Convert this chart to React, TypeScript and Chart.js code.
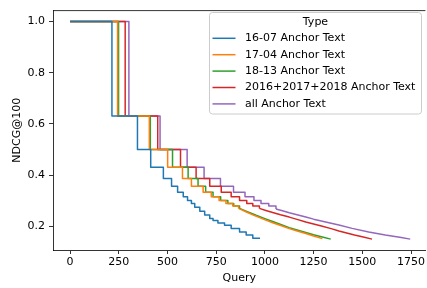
import { useEffect, useRef } from 'react';
import { Chart, registerables } from 'chart.js';

Chart.register(...registerables);

const seriesLabels = [
  '16-07 Anchor Text',
  '17-04 Anchor Text',
  '18-13 Anchor Text',
  '2016+2017+2018 Anchor Text',
  'all Anchor Text',
];
const seriesColors = ['#1f77b4', '#ff7f0e', '#2ca02c', '#d62728', '#9467bd'];

// Stepped head of each curve: query index where a step starts, NDCG@100 from there on
const query1607 = [0, 215, 346, 414, 479, 521, 552, 581, 603, 623, 640, 666, 691, 717, 734, 759, 793, 827, 870, 904, 938, 975];
const ndcg1607 = [1.0, 0.631, 0.5, 0.431, 0.387, 0.356, 0.333, 0.315, 0.301, 0.289, 0.274, 0.259, 0.244, 0.231, 0.223, 0.213, 0.204, 0.191, 0.178, 0.166, 0.153, 0.153];

const query1704 = [0, 244, 407, 501, 577, 623, 683, 725, 765, 800, 835, 865];
const ndcg1704 = [1.0, 0.631, 0.5, 0.431, 0.387, 0.356, 0.333, 0.315, 0.301, 0.289, 0.279, 0.270];

const query1813 = [0, 249, 412, 526, 606, 657, 696, 734, 773, 810, 840, 870];
const ndcg1813 = [1.0, 0.631, 0.5, 0.431, 0.387, 0.356, 0.333, 0.315, 0.301, 0.289, 0.279, 0.270];

const queryCombined = [0, 283, 450, 567, 647, 717, 776, 827, 870, 907, 938, 972];
const ndcgCombined = [1.0, 0.631, 0.5, 0.431, 0.387, 0.356, 0.333, 0.315, 0.301, 0.289, 0.279, 0.270];

const queryAll = [0, 302, 462, 601, 688, 772, 839, 898, 944, 980, 1020, 1057];
const ndcgAll = [1.0, 0.631, 0.5, 0.431, 0.387, 0.356, 0.333, 0.315, 0.301, 0.289, 0.279, 0.268];

// Fine-grained tails (steps too small to see), drawn as a continuous line
const tailQuery1607: number[] = [];
const tailNdcg1607: number[] = [];

const tailQuery1704 = [865, 905, 950, 995, 1040, 1085, 1125, 1170, 1210, 1250, 1295];
const tailNdcg1704 = [0.270, 0.256, 0.241, 0.227, 0.214, 0.202, 0.191, 0.181, 0.172, 0.162, 0.152];

const tailQuery1813 = [870, 910, 955, 1000, 1040, 1085, 1125, 1170, 1210, 1250, 1295, 1338];
const tailNdcg1813 = [0.270, 0.257, 0.243, 0.230, 0.219, 0.206, 0.195, 0.185, 0.176, 0.167, 0.158, 0.150];

const tailQueryCombined = [972, 1005, 1040, 1080, 1125, 1165, 1210, 1250, 1295, 1340, 1380, 1420, 1460, 1505, 1550];
const tailNdcgCombined = [0.270, 0.262, 0.254, 0.245, 0.236, 0.227, 0.217, 0.209, 0.200, 0.191, 0.182, 0.174, 0.166, 0.158, 0.150];

const tailQueryAll = [1057, 1090, 1125, 1165, 1210, 1250, 1295, 1340, 1380, 1448, 1533, 1618, 1700, 1746];
const tailNdcgAll = [0.268, 0.261, 0.253, 0.245, 0.236, 0.228, 0.220, 0.212, 0.205, 0.192, 0.178, 0.166, 0.156, 0.150];

const seriesQueries = [query1607, query1704, query1813, queryCombined, queryAll];
const seriesValues = [ndcg1607, ndcg1704, ndcg1813, ndcgCombined, ndcgAll];
const tailQueries = [tailQuery1607, tailQuery1704, tailQuery1813, tailQueryCombined, tailQueryAll];
const tailValues = [tailNdcg1607, tailNdcg1704, tailNdcg1813, tailNdcgCombined, tailNdcgAll];

const xTicks = [0, 250, 500, 750, 1000, 1250, 1500, 1750];
const yTicks = [0.2, 0.4, 0.6, 0.8, 1.0];
const legendTitle = 'Type';
const xTitle = 'Query';
const yTitle = 'NDCG@100';

const FONT = 'DejaVu Sans';

const overlayPlugin = {
  id: 'overlay',
  afterDraw(chart: any) {
    const { ctx, chartArea } = chart;
    ctx.save();
    // top spine
    ctx.strokeStyle = '#000';
    ctx.lineWidth = 0.8;
    ctx.beginPath();
    ctx.moveTo(chartArea.left, chartArea.top);
    ctx.lineTo(chartArea.right, chartArea.top);
    ctx.stroke();

    // legend box
    const bx = 209.5, by = 12.5, bw = 212, bh = 101.5, r = 3;
    ctx.beginPath();
    ctx.moveTo(bx + r, by);
    ctx.lineTo(bx + bw - r, by);
    ctx.quadraticCurveTo(bx + bw, by, bx + bw, by + r);
    ctx.lineTo(bx + bw, by + bh - r);
    ctx.quadraticCurveTo(bx + bw, by + bh, bx + bw - r, by + bh);
    ctx.lineTo(bx + r, by + bh);
    ctx.quadraticCurveTo(bx, by + bh, bx, by + bh - r);
    ctx.lineTo(bx, by + r);
    ctx.quadraticCurveTo(bx, by, bx + r, by);
    ctx.closePath();
    ctx.fillStyle = 'rgba(255,255,255,0.8)';
    ctx.fill();
    ctx.strokeStyle = '#cccccc';
    ctx.lineWidth = 1;
    ctx.stroke();

    ctx.font = `11px "${FONT}"`;
    ctx.fillStyle = '#000';
    ctx.textBaseline = 'middle';
    ctx.textAlign = 'center';
    ctx.fillText(legendTitle, bx + bw / 2, 22);
    ctx.textAlign = 'left';
    seriesLabels.forEach((label, i) => {
      const y = 38.3 + i * 16.4;
      ctx.strokeStyle = seriesColors[i];
      ctx.lineWidth = 1.5;
      ctx.beginPath();
      ctx.moveTo(212.5, y);
      ctx.lineTo(235.5, y);
      ctx.stroke();
      ctx.fillStyle = '#000';
      ctx.fillText(label, 245, y);
    });
    ctx.restore();
  },
};

export default function App() {
  const ref = useRef<HTMLCanvasElement>(null);
  useEffect(() => {
    document.body.style.margin = '0';
    const common = {
      borderWidth: 1.5,
      pointRadius: 0,
      fill: false,
      borderJoinStyle: 'round' as const,
      borderCapStyle: 'butt' as const,
    };
    const heads = seriesLabels.map((label, i) => ({
      ...common,
      label,
      data: seriesQueries[i].map((q, j) => ({ x: q, y: seriesValues[i][j] })),
      borderColor: seriesColors[i],
      backgroundColor: seriesColors[i],
      stepped: 'before' as const,
    }));
    const tails = seriesLabels.map((label, i) => ({
      ...common,
      label: label + ' (tail)',
      data: tailQueries[i].map((q, j) => ({ x: q, y: tailValues[i][j] })),
      borderColor: seriesColors[i],
      backgroundColor: seriesColors[i],
      tension: 0,
    }));
    const tickFont = { family: FONT, size: 11 };
    const chart = new Chart(ref.current!, {
      type: 'line',
      data: { datasets: [...heads, ...tails] },
      options: {
        responsive: false,
        animation: false,
        layout: { padding: { top: 6, right: 0, left: 0, bottom: 0 } },
        plugins: { legend: { display: false }, tooltip: { enabled: false } },
        scales: {
          x: {
            type: 'linear',
            min: -87.5,
            max: 1824,
            afterBuildTicks: (s: any) => {
              s.ticks = xTicks.map((v) => ({ value: v }));
            },
            afterFit: (s: any) => {
              s.height = 38;
            },
            grid: { display: true, drawOnChartArea: false, drawTicks: true, tickLength: 4, tickColor: '#000', tickWidth: 0.8 },
            border: { display: true, color: '#000', width: 0.8 },
            ticks: { color: '#000', font: tickFont, padding: 2, maxRotation: 0, autoSkip: false, callback: (v: any) => String(v) },
            title: { display: true, text: xTitle, color: '#000', font: tickFont, padding: { top: 0, bottom: 3 } },
          },
          y: {
            type: 'linear',
            min: 0.1075,
            max: 1.0425,
            afterBuildTicks: (s: any) => {
              s.ticks = yTicks.map((v) => ({ value: v }));
            },
            afterFit: (s: any) => {
              s.width = 53;
            },
            grid: { display: true, drawOnChartArea: false, drawTicks: true, tickLength: 4, tickColor: '#000', tickWidth: 0.8 },
            border: { display: true, color: '#000', width: 0.8 },
            ticks: { color: '#000', font: tickFont, padding: 4, autoSkip: false, callback: (v: any) => Number(v).toFixed(1) },
            title: { display: true, text: yTitle, color: '#000', font: tickFont, padding: { top: 10.5, bottom: 0 } },
          },
        },
      },
      plugins: [overlayPlugin],
    });
    return () => chart.destroy();
  }, []);
  return (
    <div style={{ width: 427, height: 288 }}>
      <canvas ref={ref} width={427} height={288} style={{ display: 'block' }} />
    </div>
  );
}
